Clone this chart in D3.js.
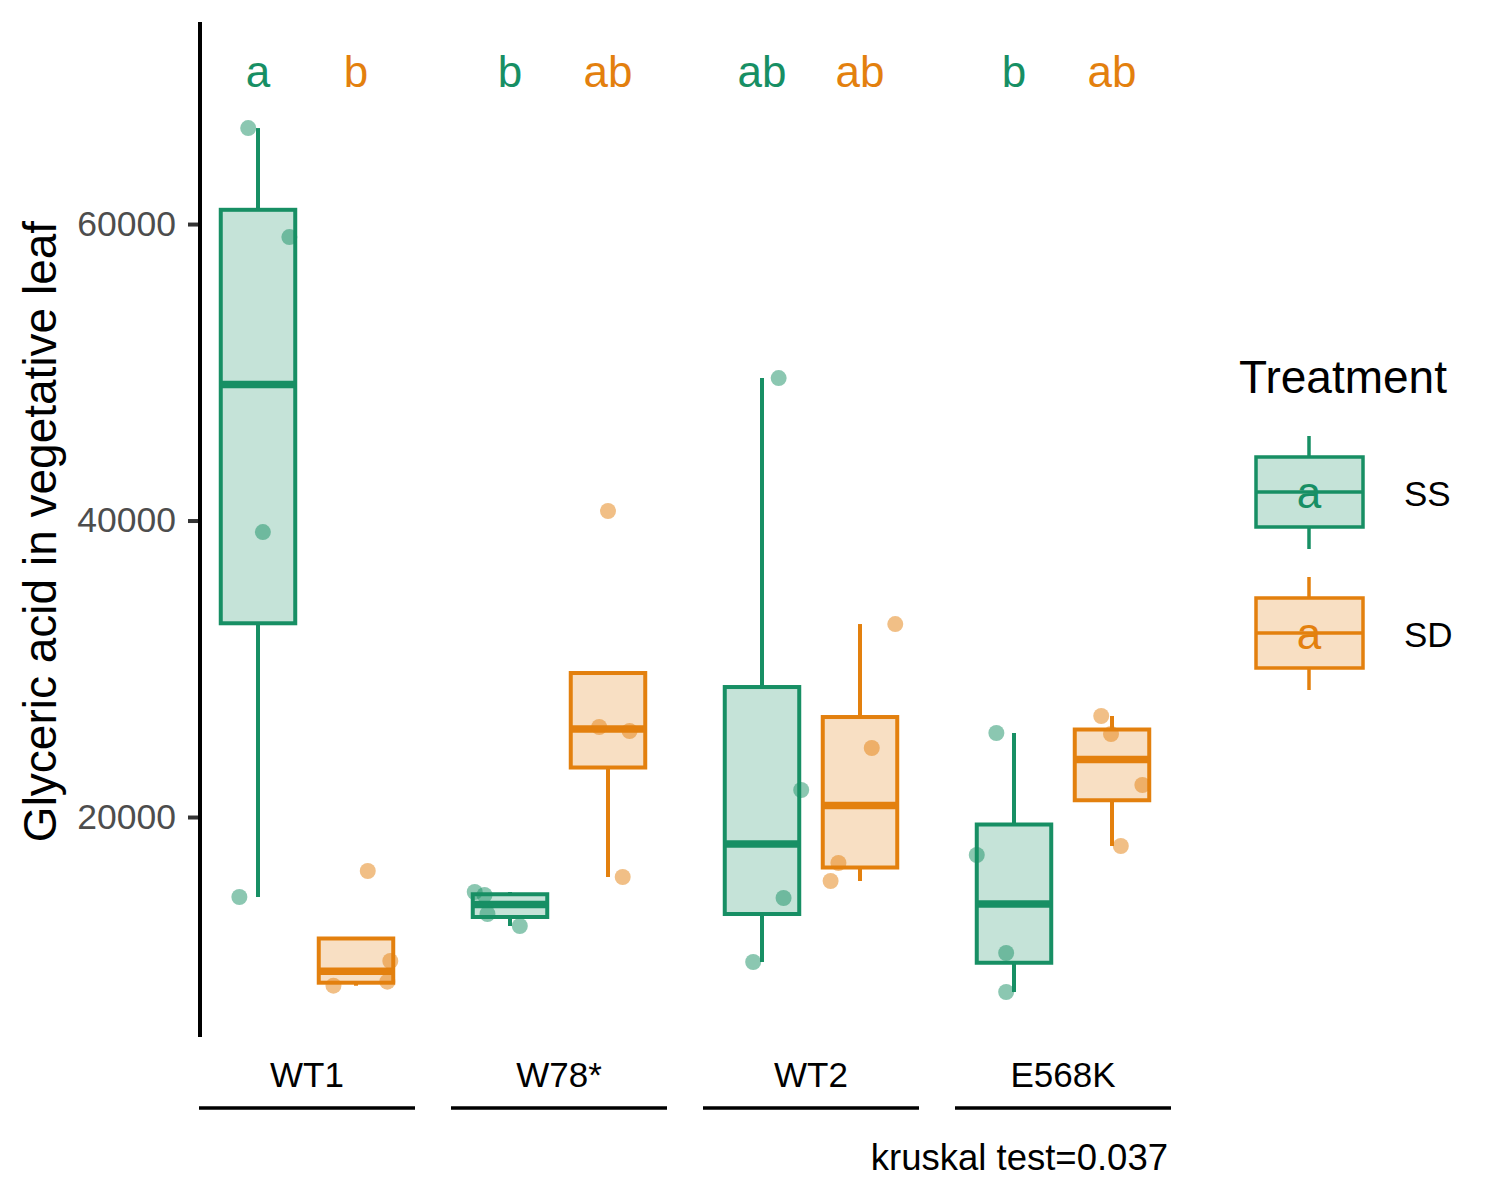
<!DOCTYPE html>
<html>
<head>
<meta charset="utf-8">
<script src="https://cdn.jsdelivr.net/npm/d3@7"></script>
<style>
  body { margin: 0; background: #fff; }
  text { font-family: "Liberation Sans", Arial, sans-serif; }
</style>
</head>
<body>
<svg id="chart" width="1500" height="1200"></svg>
<script>
var groups = ["WT1", "W78*", "WT2", "E568K"];
var treatments = ["SS", "SD"];

// one array of 4 replicates per genotype
var ssValues = [[66475, 59123, 39224, 14604],
                [14941, 14739, 13457, 12648],
                [49612, 21821, 14536, 10219],
                [25666, 17437, 10826, 8196]];
var sdValues = [[16358, 10287, 8890, 8620],
                [40641, 26071, 25801, 15953],
                [33018, 24654, 16897, 15683],
                [26813, 25599, 22159, 18044]];

// horizontal jitter, in units of the dodge slot
var ssJitter = [[-0.10, 0.32, 0.05, -0.19],
                [-0.36, -0.26, -0.23, 0.10],
                [0.17, 0.40, 0.22, -0.09],
                [-0.18, -0.38, -0.08, -0.08]];
var sdJitter = [[0.12, 0.35, 0.32, -0.23],
                [0.00, -0.09, 0.22, 0.15],
                [0.36, 0.12, -0.22, -0.30],
                [-0.11, -0.01, 0.31, 0.09]];

var ssLetters = ["a", "b", "ab", "b"];
var sdLetters = ["b", "ab", "ab", "ab"];

var yTicks = [20000, 40000, 60000];
var yTitle = "Glyceric acid in vegetative leaf";
var legendTitle = "Treatment";
var testLabel = "kruskal test=0.037";

var color = {SS: "#178F64", SD: "#E3800E"};

var svg = d3.select("#chart");

var x = d3.scaleBand().domain(groups).range([181, 1189]).padding(0);
var xSub = d3.scaleBand().domain(treatments).range([28, 224]);
var boxW = xSub.bandwidth() * 0.76;
var y = d3.scaleLinear().domain([5160, 73630]).range([1037, 22]);

function cx(g, t) { return x(g) + xSub(t) + xSub.bandwidth() / 2; }

// same rule as ggplot's stat_boxplot: whiskers never end inside the box
function stats(vals) {
  var s = vals.slice().sort(d3.ascending);
  var q1 = d3.quantile(s, 0.25), med = d3.quantile(s, 0.5), q3 = d3.quantile(s, 0.75);
  var iqr = q3 - q1;
  var inside = s.filter(function(v) { return v >= q1 - 1.5 * iqr && v <= q3 + 1.5 * iqr; });
  var lo = Math.min(q1, d3.min(inside));
  var hi = Math.max(q3, d3.max(inside));
  return {q1: q1, med: med, q3: q3, lo: lo, hi: hi};
}

var boxes = [], points = [], letters = [];
groups.forEach(function(g, i) {
  [["SS", ssValues, ssJitter, ssLetters], ["SD", sdValues, sdJitter, sdLetters]].forEach(function(r) {
    var t = r[0];
    boxes.push(Object.assign({group: g, trt: t}, stats(r[1][i])));
    r[1][i].forEach(function(v, k) {
      points.push({group: g, trt: t, value: v, jit: r[2][i][k]});
    });
    letters.push({group: g, trt: t, text: r[3][i]});
  });
});

// boxes
var bg = svg.append("g").attr("class", "boxes");
var b = bg.selectAll(".box").data(boxes).enter().append("g").attr("class", "box");
b.append("line")
  .attr("x1", function(d) { return cx(d.group, d.trt); })
  .attr("x2", function(d) { return cx(d.group, d.trt); })
  .attr("y1", function(d) { return y(d.hi); })
  .attr("y2", function(d) { return y(d.q3); })
  .attr("stroke", function(d) { return color[d.trt]; })
  .attr("stroke-width", 4);
b.append("line")
  .attr("x1", function(d) { return cx(d.group, d.trt); })
  .attr("x2", function(d) { return cx(d.group, d.trt); })
  .attr("y1", function(d) { return y(d.q1); })
  .attr("y2", function(d) { return y(d.lo); })
  .attr("stroke", function(d) { return color[d.trt]; })
  .attr("stroke-width", 4);
b.append("rect")
  .attr("x", function(d) { return cx(d.group, d.trt) - boxW / 2; })
  .attr("y", function(d) { return y(d.q3); })
  .attr("width", boxW)
  .attr("height", function(d) { return y(d.q1) - y(d.q3); })
  .attr("fill", function(d) { return color[d.trt]; })
  .attr("fill-opacity", 0.25)
  .attr("stroke", function(d) { return color[d.trt]; })
  .attr("stroke-width", 4);
b.append("line")
  .attr("x1", function(d) { return cx(d.group, d.trt) - boxW / 2; })
  .attr("x2", function(d) { return cx(d.group, d.trt) + boxW / 2; })
  .attr("y1", function(d) { return y(d.med); })
  .attr("y2", function(d) { return y(d.med); })
  .attr("stroke", function(d) { return color[d.trt]; })
  .attr("stroke-width", 7.5);

// jittered points
svg.append("g").selectAll("circle").data(points).enter().append("circle")
  .attr("cx", function(d) { return cx(d.group, d.trt) + d.jit * xSub.bandwidth(); })
  .attr("cy", function(d) { return y(d.value); })
  .attr("r", 8)
  .attr("fill", function(d) { return color[d.trt]; })
  .attr("fill-opacity", 0.5);

// significance letters
svg.append("g").selectAll("text").data(letters).enter().append("text")
  .attr("x", function(d) { return cx(d.group, d.trt); })
  .attr("y", 87)
  .attr("text-anchor", "middle")
  .attr("font-size", 44)
  .attr("fill", function(d) { return color[d.trt]; })
  .text(function(d) { return d.text; });

// y axis
var ya = svg.append("g").attr("transform", "translate(200,0)")
  .call(d3.axisLeft(y).tickValues(yTicks).tickSize(12).tickPadding(12).tickFormat(d3.format("d")));
ya.select(".domain").remove();
ya.selectAll(".tick line").attr("stroke", "#333").attr("stroke-width", 4);
ya.selectAll(".tick text").attr("fill", "#4d4d4d").attr("font-size", 35.5)
  .attr("font-family", "Liberation Sans, Arial, sans-serif");
svg.append("line")
  .attr("x1", 200).attr("x2", 200)
  .attr("y1", y.range()[1]).attr("y2", y.range()[0])
  .attr("stroke", "#000").attr("stroke-width", 4);

svg.append("text")
  .attr("transform", "translate(56," + ((y.range()[0] + y.range()[1]) / 2 + 2) + ") rotate(-90)")
  .attr("text-anchor", "middle")
  .attr("font-size", 46)
  .attr("fill", "#000")
  .text(yTitle);

// x labels with underline brackets
var xg = svg.append("g").selectAll("g").data(groups).enter().append("g");
xg.append("text")
  .attr("x", function(d) { return x(d) + x.bandwidth() / 2; })
  .attr("y", 1087)
  .attr("text-anchor", "middle")
  .attr("font-size", 35)
  .attr("fill", "#000")
  .text(function(d) { return d; });
xg.append("line")
  .attr("x1", function(d) { return x(d) + x.bandwidth() / 2 - 108; })
  .attr("x2", function(d) { return x(d) + x.bandwidth() / 2 + 108; })
  .attr("y1", 1108).attr("y2", 1108)
  .attr("stroke", "#000").attr("stroke-width", 3.5);

svg.append("text")
  .attr("x", 1168).attr("y", 1170)
  .attr("text-anchor", "end")
  .attr("font-size", 36.5)
  .attr("fill", "#000")
  .text(testLabel);

// legend
var lg = svg.append("g").attr("class", "legend");
lg.append("text")
  .attr("x", 1239).attr("y", 393)
  .attr("font-size", 46)
  .attr("fill", "#000")
  .text(legendTitle);
var key = lg.selectAll(".key").data(treatments).enter().append("g")
  .attr("class", "key")
  .attr("transform", function(d, i) { return "translate(0," + (i * 141) + ")"; });
key.append("line")
  .attr("x1", 1309).attr("x2", 1309).attr("y1", 436).attr("y2", 549)
  .attr("stroke", function(d) { return color[d]; }).attr("stroke-width", 3.5);
key.append("rect")
  .attr("x", 1256).attr("y", 457).attr("width", 107).attr("height", 70)
  .attr("fill", "#fff")
  .attr("stroke", "none");
key.append("rect")
  .attr("x", 1256).attr("y", 457).attr("width", 107).attr("height", 70)
  .attr("fill", function(d) { return color[d]; }).attr("fill-opacity", 0.25)
  .attr("stroke", function(d) { return color[d]; }).attr("stroke-width", 3.5);
key.append("line")
  .attr("x1", 1256).attr("x2", 1363).attr("y1", 492).attr("y2", 492)
  .attr("stroke", function(d) { return color[d]; }).attr("stroke-width", 3.5);
key.append("text")
  .attr("x", 1309).attr("y", 508)
  .attr("text-anchor", "middle")
  .attr("font-size", 44)
  .attr("fill", function(d) { return color[d]; })
  .text("a");
key.append("text")
  .attr("x", 1404).attr("y", 506)
  .attr("font-size", 35)
  .attr("fill", "#000")
  .text(function(d) { return d; });
</script>
</body>
</html>
